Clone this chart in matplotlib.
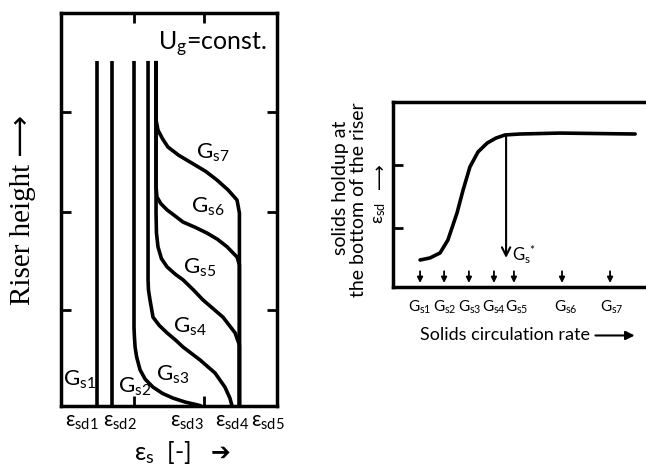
import matplotlib
matplotlib.use("Agg")
import matplotlib.pyplot as plt

plt.rcParams['font.family'] = ['Lato', 'DejaVu Sans']
plt.rcParams['mathtext.fontset'] = 'custom'
plt.rcParams['mathtext.rm'] = 'Lato'
plt.rcParams['mathtext.it'] = 'Lato:italic'
plt.rcParams['mathtext.bf'] = 'Lato:bold'
plt.rcParams['mathtext.fallback'] = 'stixsans'

# Left panel: axial profiles of solids holdup (eps_s) vs riser height
gs1_eps = [0.166, 0.166]
gs1_h = [0.878, 0.0]
gs2_eps = [0.235, 0.235]
gs2_h = [0.878, 0.0]
gs3_eps = [0.338, 0.338, 0.340, 0.343, 0.350, 0.366, 0.390, 0.426, 0.470, 0.519, 0.575, 0.630, 0.650]
gs3_h = [0.878, 0.200, 0.175, 0.150, 0.125, 0.092, 0.068, 0.048, 0.032, 0.020, 0.010, 0.003, 0.0]
gs4_eps = [0.403, 0.403, 0.405, 0.412, 0.426, 0.455, 0.491, 0.530, 0.565, 0.644, 0.713, 0.759, 0.782, 0.792]
gs4_h = [0.878, 0.320, 0.295, 0.270, 0.226, 0.205, 0.186, 0.168, 0.150, 0.117, 0.084, 0.048, 0.020, 0.0]
gs5_eps = [0.440, 0.440, 0.442, 0.449, 0.465, 0.491, 0.530, 0.565, 0.612, 0.657, 0.750, 0.806, 0.826, 0.826]
gs5_h = [0.878, 0.491, 0.440, 0.405, 0.375, 0.354, 0.335, 0.321, 0.296, 0.270, 0.226, 0.186, 0.155, 0.0]
gs6_eps = [0.440, 0.440, 0.444, 0.462, 0.491, 0.520, 0.565, 0.620, 0.676, 0.725, 0.769, 0.815, 0.826, 0.826]
gs6_h = [0.878, 0.560, 0.532, 0.515, 0.499, 0.487, 0.468, 0.455, 0.440, 0.424, 0.405, 0.379, 0.359, 0.0]
gs7_eps = [0.440, 0.440, 0.449, 0.470, 0.495, 0.545, 0.606, 0.670, 0.722, 0.773, 0.815, 0.826, 0.826]
gs7_h = [0.878, 0.728, 0.702, 0.680, 0.659, 0.638, 0.618, 0.597, 0.575, 0.550, 0.524, 0.491, 0.0]

profiles = [(gs1_eps, gs1_h), (gs2_eps, gs2_h), (gs3_eps, gs3_h), (gs4_eps, gs4_h),
            (gs5_eps, gs5_h), (gs6_eps, gs6_h), (gs7_eps, gs7_h)]
profile_names = ['G$_{\\mathrm{s1}}$', 'G$_{\\mathrm{s2}}$', 'G$_{\\mathrm{s3}}$', 'G$_{\\mathrm{s4}}$',
                 'G$_{\\mathrm{s5}}$', 'G$_{\\mathrm{s6}}$', 'G$_{\\mathrm{s7}}$']
eps_names = ['ε$_{\\mathrm{sd1}}$', 'ε$_{\\mathrm{sd2}}$', 'ε$_{\\mathrm{sd3}}$',
             'ε$_{\\mathrm{sd4}}$', 'ε$_{\\mathrm{sd5}}$']

# Right panel: bottom solids holdup vs solids circulation rate
rate = [0.107, 0.146, 0.186, 0.217, 0.253, 0.277, 0.304, 0.336, 0.372, 0.407, 0.443, 0.502, 0.660, 0.957]
holdup = [0.146, 0.157, 0.184, 0.254, 0.400, 0.524, 0.649, 0.730, 0.778, 0.805, 0.822, 0.827, 0.832, 0.827]
gs_star = 0.447
g_marks = [0.107, 0.202, 0.300, 0.399, 0.478, 0.668, 0.858]
g_names = ['G$_{\\mathrm{s1}}$', 'G$_{\\mathrm{s2}}$', 'G$_{\\mathrm{s3}}$', 'G$_{\\mathrm{s4}}$',
           'G$_{\\mathrm{s5}}$', 'G$_{\\mathrm{s6}}$', 'G$_{\\mathrm{s7}}$']

fig = plt.figure(figsize=(6.46, 4.67), dpi=100)

# ---- left panel
ax = fig.add_axes([61 / 646, 61 / 467, 216 / 646, 393 / 467])
for eps, h in profiles:
    ax.plot(eps, h, color='black', lw=2.6, solid_joinstyle='round', solid_capstyle='butt')
ax.set_xlim(0, 1)
ax.set_ylim(0, 1)
ax.set_xticks([0.338, 0.662])
ax.set_yticks([0.244, 0.494, 0.748])
ax.tick_params(direction='in', length=7, width=2, top=True, right=True,
               labelbottom=False, labelleft=False)
for s in ax.spines.values():
    s.set_linewidth(2.5)

label_pos = [(0.088, 0.066), (0.343, 0.048), (0.519, 0.079), (0.597, 0.201),
             (0.644, 0.351), (0.681, 0.506), (0.704, 0.644)]
for name, (x, y) in zip(profile_names, label_pos):
    ax.text(x, y, name, fontsize=16, ha='center', va='center')

ax.text(0.955, 0.919, 'U$_{\\mathrm{g}}$=const.', fontsize=18, ha='right', va='center')

eps_x = [0.097, 0.273, 0.583, 0.792, 0.958]
for name, x in zip(eps_names, eps_x):
    ax.text(x, -0.041, name, fontsize=15, ha='center', va='center', clip_on=False)
ax.text(0.47, -0.118, 'ε$_{\\mathrm{s}}$  [-]', fontsize=18, ha='center', va='center', clip_on=False)
ax.text(0.74, -0.118, '➔', fontsize=17, ha='center', va='center', clip_on=False,
        family=['DejaVu Sans'])
fig.text(23 / 646, 1 - 210 / 467, 'Riser height ⟶', rotation=90, fontsize=21,
         family=['Liberation Serif', 'DejaVu Sans'], ha='center', va='center')

# ---- right panel
bx = fig.add_axes([393 / 646, 180 / 467, 253 / 646, 185 / 467])
bx.plot(rate, holdup, color='black', lw=2.6, solid_capstyle='round')
bx.annotate('', xy=(gs_star, 0.157), xytext=(gs_star, 0.822),
            arrowprops=dict(arrowstyle='->', lw=1.5, color='black', mutation_scale=15,
                            shrinkA=0, shrinkB=0))
bx.text(gs_star + 0.023, 0.173, 'G$_{\\mathrm{s}}$$^{*}$', fontsize=12, ha='left', va='center')
for x in g_marks:
    bx.annotate('', xy=(x, 0.022), xytext=(x, 0.085),
                arrowprops=dict(arrowstyle='-|>', lw=1.3, color='black', mutation_scale=8,
                                shrinkA=0, shrinkB=0))
g_lab_x = [0.107, 0.204, 0.302, 0.397, 0.487, 0.682, 0.866]
for name, x in zip(g_names, g_lab_x):
    bx.text(x, -0.108, name, fontsize=11, ha='center', va='center', clip_on=False)
bx.text(0.107, -0.259, 'Solids circulation rate', fontsize=13, ha='left', va='center', clip_on=False)
bx.annotate('', xy=(0.955, -0.262), xytext=(0.80, -0.262), annotation_clip=False,
            arrowprops=dict(arrowstyle='-|>', lw=1.5, color='black', mutation_scale=13,
                            shrinkA=0, shrinkB=0))
bx.set_xlim(0, 1)
bx.set_ylim(0, 1)
bx.set_xticks([])
bx.set_yticks([0.319, 0.659])
bx.tick_params(direction='in', length=7, width=2, labelleft=False)
bx.spines['right'].set_visible(False)
for s in ['left', 'top', 'bottom']:
    bx.spines[s].set_linewidth(2.5)

bx.text(-0.209, 0.535, 'solids holdup at', rotation=90, fontsize=14, ha='center', va='center',
        clip_on=False)
bx.text(-0.138, 0.470, 'the bottom of the riser', rotation=90, fontsize=14, ha='center', va='center',
        clip_on=False)
bx.text(-0.051, 0.40, 'ε$_{\\mathrm{sd}}$', rotation=90, fontsize=13, ha='center', va='center',
        clip_on=False)
bx.text(-0.051, 0.60, '⟶', rotation=90, fontsize=13, ha='center', va='center',
        clip_on=False, family=['DejaVu Sans'])

fig.savefig('out.png', dpi=100)
